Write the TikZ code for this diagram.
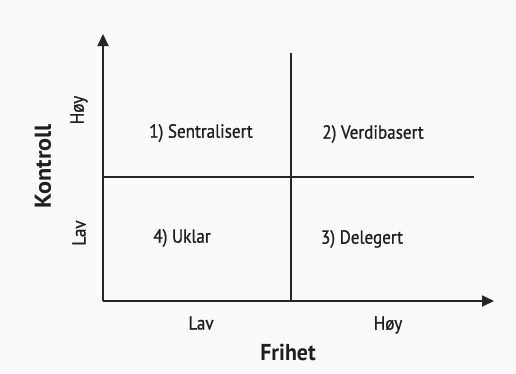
\documentclass[tikz,border=0pt]{standalone}
\usepackage{fontspec}
\setmainfont{PT Sans}
\newfontfamily\lblfont[FakeBold=1]{PT Sans}
\usetikzlibrary{arrows.meta}
\newcommand{\narrow}[1]{\scalebox{0.9}[1]{#1}}
\newcommand{\narrowb}[1]{\scalebox{0.95}[1]{#1}}
\begin{document}
\begin{tikzpicture}[x=1pt,y=-1pt,
  axis/.style={line width=1.8pt,draw=black!85,-{Triangle[length=12pt,width=11pt]}},
  divider/.style={line width=1.3pt,draw=black!85},
  lbl/.style={font=\lblfont\fontsize{19}{21}\selectfont,text=black!88,inner sep=0pt},
  ttl/.style={font=\fontsize{23}{25}\selectfont\bfseries,text=black!88,inner sep=0pt}]
\fill[gray!4] (0,0) rectangle (516,373);
\useasboundingbox (0,0) rectangle (516,373);
\coordinate (o) at (103,301);
\coordinate (ytip) at (103,34);
\coordinate (xtip) at (494,301);
\coordinate (vtop) at (291,53);
\coordinate (vbot) at (291,301);
\coordinate (hl) at (103,177);
\coordinate (hr) at (474,177);
\draw[axis] (o) -- (ytip);
\draw[axis] (o) -- (xtip);
\draw[divider] (vtop) -- (vbot);
\draw[divider] (hl) -- (hr);
\node[lbl] (q1) at (201,133) {\narrow{1) Sentralisert}};
\node[lbl] (q2) at (373,134) {\narrow{2) Verdibasert}};
\node[lbl] (q4) at (182,238) {\narrow{4) Uklar}};
\node[lbl] (q3) at (362,239) {\narrow{3) Delegert}};
\node[lbl,rotate=90] (yh) at (79,110) {\narrow{Høy}};
\node[lbl,rotate=90] (yl) at (79,233) {\narrow{Lav}};
\node[ttl,rotate=90] (yt) at (43,166) {\scalebox{1.05}[1]{Kontroll}};
\node[lbl] (xl) at (201,323) {\narrow{Lav}};
\node[lbl] (xh) at (388,325) {\narrow{Høy}};
\node[ttl] (xt) at (288,352) {\narrowb{Frihet}};
\end{tikzpicture}
\end{document}
